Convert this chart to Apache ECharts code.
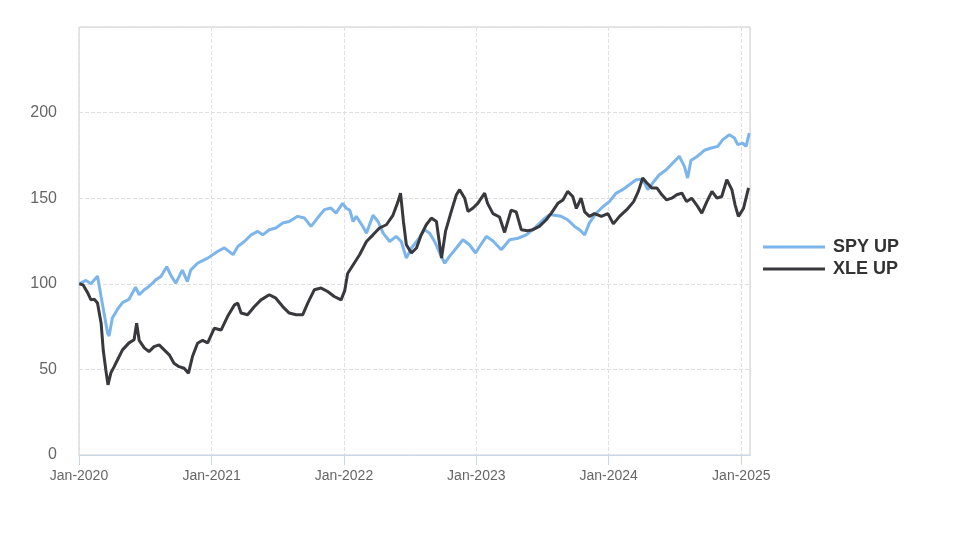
<!DOCTYPE html>
<html>
<head>
<meta charset="utf-8">
<script src="https://cdn.jsdelivr.net/npm/echarts@6/dist/echarts.min.js"></script>
<style>
  html, body { margin: 0; padding: 0; background: #fff; }
  #chart { width: 974px; height: 547px; }
</style>
</head>
<body>
<div id="chart"></div>
<script>
// SPY 回报指数（起点 = 100）
const spyDates = [
  '2020-01-02', '2020-01-07', '2020-01-20', '2020-02-03', '2020-02-21', '2020-03-02', '2020-03-10', '2020-03-20',
  '2020-03-24', '2020-04-02', '2020-04-16', '2020-04-30', '2020-05-18', '2020-06-05', '2020-06-15', '2020-06-29',
  '2020-07-12', '2020-07-31', '2020-08-14', '2020-08-30', '2020-09-10', '2020-09-24', '2020-10-12', '2020-10-26',
  '2020-11-04', '2020-11-23', '2020-12-11', '2020-12-21', '2021-01-18', '2021-02-05', '2021-03-01', '2021-03-14',
  '2021-04-01', '2021-04-20', '2021-05-08', '2021-05-22', '2021-06-09', '2021-06-27', '2021-07-16', '2021-08-03',
  '2021-08-26', '2021-09-14', '2021-10-02', '2021-10-20', '2021-11-08', '2021-11-26', '2021-12-10', '2021-12-28',
  '2022-01-08', '2022-01-17', '2022-01-26', '2022-02-04', '2022-02-22', '2022-03-04', '2022-03-22', '2022-04-05',
  '2022-04-19', '2022-05-07', '2022-05-25', '2022-06-08', '2022-06-22', '2022-07-06', '2022-07-24', '2022-08-11',
  '2022-08-25', '2022-09-08', '2022-09-22', '2022-10-06', '2022-10-19', '2022-11-07', '2022-11-25', '2022-12-13',
  '2022-12-30', '2023-01-10', '2023-01-29', '2023-02-16', '2023-03-11', '2023-04-03', '2023-04-26', '2023-05-19',
  '2023-06-11', '2023-07-04', '2023-07-22', '2023-08-05', '2023-08-23', '2023-09-10', '2023-09-29', '2023-10-13',
  '2023-10-27', '2023-11-09', '2023-11-28', '2023-12-16', '2024-01-03', '2024-01-22', '2024-02-09', '2024-02-28',
  '2024-03-17', '2024-04-04', '2024-04-18', '2024-05-02', '2024-05-20', '2024-06-08', '2024-06-26', '2024-07-14',
  '2024-07-28', '2024-08-06', '2024-08-15', '2024-09-02', '2024-09-21', '2024-10-10', '2024-10-28', '2024-11-11',
  '2024-11-29', '2024-12-13', '2024-12-22', '2025-01-05', '2025-01-14', '2025-01-23'
]
const spyValues = [
  100, 101, 102, 100, 104.5, 92.5, 83, 71,
  69.5, 80, 85, 89, 91, 98, 93.6, 96.5,
  98.4, 102.3, 104.3, 110, 105, 100.4, 108, 101.3,
  108, 112, 114, 115, 119, 121, 117, 121.8,
  124.7, 128.6, 130.6, 128.6, 131.6, 132.6, 135.5, 136.4,
  139.4, 138.4, 133.5, 138.4, 143.3, 144.3, 141.3, 147,
  144, 143, 136.4, 139.4, 133.5, 129.6, 140, 136.4,
  129.6, 124.7, 127.7, 124.7, 115, 120.9, 125.7, 131.6,
  129.6, 124.7, 118, 112, 116, 120.9, 125.7, 122.8,
  118, 121.8, 127.7, 125, 119.9, 125.7, 126.6, 128.6,
  132.6, 137.4, 140.4, 140, 139.4, 137.4, 133.5, 131.6,
  128.6, 135.6, 141.3, 145, 148, 153, 155, 158,
  160.8, 161, 155, 159, 163.7, 166.6, 170.6, 174.5,
  168.6, 161.8, 172, 174.5, 178, 179.3, 180.3, 184.2,
  187.1, 185.2, 181.3, 182.2, 180.3, 188
]

// XLE 回报指数（起点 = 100）
const xleDates = [
  '2020-01-02', '2020-01-12', '2020-01-25', '2020-02-03', '2020-02-12', '2020-02-21', '2020-03-02', '2020-03-08',
  '2020-03-15', '2020-03-21', '2020-03-29', '2020-04-07', '2020-04-16', '2020-04-30', '2020-05-18', '2020-06-01',
  '2020-06-08', '2020-06-15', '2020-06-29', '2020-07-12', '2020-07-26', '2020-08-09', '2020-08-23', '2020-09-06',
  '2020-09-19', '2020-10-03', '2020-10-17', '2020-10-29', '2020-11-09', '2020-11-23', '2020-12-07', '2020-12-21',
  '2021-01-08', '2021-01-27', '2021-02-14', '2021-03-05', '2021-03-14', '2021-03-23', '2021-04-10', '2021-04-29',
  '2021-05-17', '2021-06-09', '2021-06-27', '2021-07-16', '2021-08-03', '2021-08-22', '2021-09-09', '2021-09-23',
  '2021-10-11', '2021-10-30', '2021-11-17', '2021-12-05', '2021-12-24', '2022-01-03', '2022-01-11', '2022-01-26',
  '2022-02-13', '2022-03-04', '2022-03-22', '2022-04-09', '2022-04-28', '2022-05-16', '2022-05-30', '2022-06-06',
  '2022-06-14', '2022-06-22', '2022-07-06', '2022-07-20', '2022-08-02', '2022-08-16', '2022-08-30', '2022-09-13',
  '2022-09-27', '2022-10-08', '2022-10-24', '2022-11-07', '2022-11-16', '2022-11-30', '2022-12-09', '2022-12-23',
  '2023-01-05', '2023-01-24', '2023-02-01', '2023-02-16', '2023-03-06', '2023-03-20', '2023-04-07', '2023-04-21',
  '2023-05-05', '2023-05-23', '2023-06-06', '2023-06-24', '2023-07-13', '2023-07-27', '2023-08-14', '2023-08-28',
  '2023-09-10', '2023-09-24', '2023-10-04', '2023-10-17', '2023-10-27', '2023-11-09', '2023-11-23', '2023-12-12',
  '2023-12-30', '2024-01-14', '2024-01-31', '2024-02-20', '2024-03-10', '2024-03-23', '2024-04-04', '2024-04-15',
  '2024-04-29', '2024-05-13', '2024-05-27', '2024-06-09', '2024-06-23', '2024-07-07', '2024-07-21', '2024-08-03',
  '2024-08-17', '2024-08-31', '2024-09-14', '2024-09-28', '2024-10-12', '2024-10-26', '2024-11-08', '2024-11-22',
  '2024-12-06', '2024-12-15', '2024-12-24', '2025-01-07', '2025-01-21'
]
const xleValues = [
  100, 99.4, 94.7, 90.6, 91, 88.8, 77, 61,
  49.7, 41, 48, 51.6, 55.5, 61.4, 65.5, 67.3,
  77, 67, 62.6, 60.4, 63.3, 64.3, 61.4, 58.5,
  53.6, 51.6, 50.7, 47.8, 57.5, 65.3, 67, 65.5,
  74, 73, 81, 87.7, 88.7, 82.9, 81.9, 86.7,
  90.6, 93.6, 91.6, 86.7, 82.9, 81.9, 81.9, 88.7,
  96.5, 97.5, 95.5, 92.6, 90.6, 96, 106, 111,
  117, 124.7, 128.6, 132.6, 134.5, 140, 148, 153,
  136.4, 122.8, 118, 120.9, 128.6, 134.5, 138.4, 136.4,
  115, 130.6, 142.3, 152, 155, 150, 142.3, 144.3,
  147, 153, 147, 141, 139, 130, 143, 142,
  131.6, 131, 131.6, 133.5, 137.4, 141.3, 147, 149,
  154, 151, 144, 150, 142, 139.4, 141, 139.4,
  141, 135, 139.4, 143.3, 148, 154, 161.8, 159,
  156, 156, 152, 149, 150, 152, 153, 148,
  150, 146, 141.3, 148, 154, 150, 151, 160.8,
  155, 146, 139.4, 144, 156
]

const seriesNames = ['SPY UP', 'XLE UP']
const seriesColors = ['#7cb5ec', '#38383d']

const zip = (dates, values) => dates.map((d, i) => [d, values[i]])

const chart = echarts.init(document.getElementById('chart'))

const option = {
  animation: false,
  textStyle: { fontFamily: 'Liberation Sans, Arial, sans-serif' },
  grid: {
    left: 79,
    right: 224,
    top: 27,
    bottom: 92,
    show: true,
    borderColor: '#cccccc',
    borderWidth: 1
  },
  legend: {
    orient: 'vertical',
    left: 763,
    top: 238,
    padding: 0,
    icon: 'rect',
    itemWidth: 62,
    itemHeight: 3,
    itemGap: 4,
    data: seriesNames,
    textStyle: {
      color: '#333333',
      fontSize: 18,
      fontWeight: 'bold',
      padding: [0, 0, 0, 3]
    }
  },
  xAxis: {
    type: 'time',
    min: '2020-01-01',
    max: '2025-01-25',
    minInterval: 365 * 24 * 3600 * 1000,
    maxInterval: 366 * 24 * 3600 * 1000,
    axisLine: { lineStyle: { color: '#ccd6eb', width: 1 } },
    axisTick: { show: true, length: 10, lineStyle: { color: '#ccd6eb' } },
    axisLabel: {
      color: '#666666',
      fontSize: 14,
      margin: 14,
      formatter: (val) => 'Jan-' + new Date(val).getFullYear()
    },
    splitLine: {
      show: true,
      lineStyle: { color: '#e0e0e0', type: 'dashed' }
    }
  },
  yAxis: {
    type: 'value',
    min: 0,
    max: 250,
    interval: 50,
    axisLine: { show: false },
    axisTick: { show: false },
    axisLabel: {
      color: '#666666',
      fontSize: 16,
      margin: 22,
      showMaxLabel: false
    },
    splitLine: {
      lineStyle: { color: '#e0e0e0', type: 'dashed' }
    }
  },
  series: [
    {
      name: seriesNames[0],
      type: 'line',
      data: zip(spyDates, spyValues),
      showSymbol: false,
      color: seriesColors[0],
      lineStyle: { width: 3, color: seriesColors[0] }
    },
    {
      name: seriesNames[1],
      type: 'line',
      data: zip(xleDates, xleValues),
      showSymbol: false,
      color: seriesColors[1],
      lineStyle: { width: 3, color: seriesColors[1] }
    }
  ]
}

chart.setOption(option)
</script>
</body>
</html>
